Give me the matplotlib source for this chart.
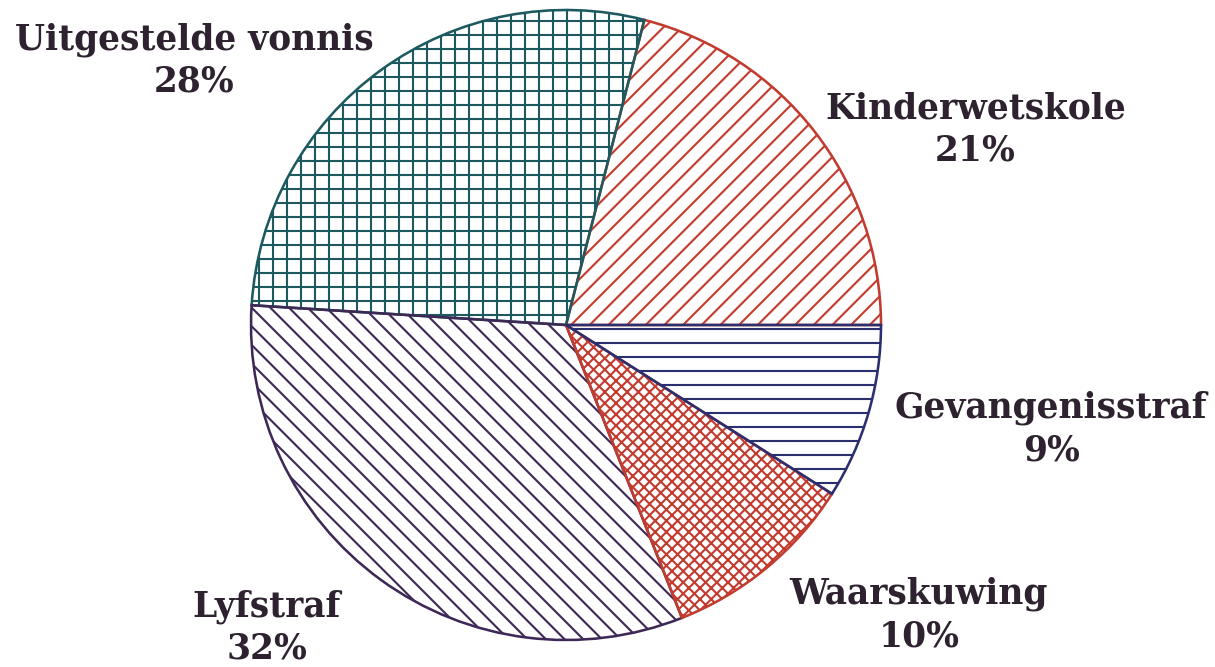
import matplotlib.pyplot as plt
import matplotlib as mpl

# slices, counter-clockwise from 3 o'clock
labels = ["Kinderwetskole", "Uitgestelde vonnis", "Lyfstraf", "Waarskuwing", "Gevangenisstraf"]
values = [21, 28, 32, 10, 9]
colors = ["#c23b2e", "#1d5a60", "#3d2856", "#c23b2e", "#2a2f70"]
hatches = ["///", "++", "\\\\\\", "xxxxx", "--"]

# label positions in pie units (radius = 1)
label_pos = [(1.30, 0.62), (-1.18, 0.84), (-0.95, -0.96), (1.12, -0.92), (1.54, -0.33)]

mpl.rcParams['hatch.linewidth'] = 0.9
text_color = "#2e2230"

DPI = 168
fig = plt.figure(figsize=(1215 / DPI, 667 / DPI), dpi=DPI)
ax = fig.add_axes([0.2066, 0.0405, 0.5185, 0.9445])

wedges, _ = ax.pie(values, startangle=0, counterclock=True, radius=1.0,
                   wedgeprops=dict(fill=False, linewidth=1.1))
for w, c, h in zip(wedges, colors, hatches):
    w.set_edgecolor(c)
    w.set_hatch(h)

for lab, v, (x, y) in zip(labels, values, label_pos):
    ax.text(x, y, f"{lab}\n{v}%", ha="center", va="center", fontsize=14.8,
            fontweight="bold", family="DejaVu Serif", color=text_color,
            linespacing=1.3, clip_on=False)

ax.set_xlim(-1, 1)
ax.set_ylim(-1, 1)
ax.set_aspect("equal")
ax.axis("off")

fig.savefig("out.png", dpi=DPI)
